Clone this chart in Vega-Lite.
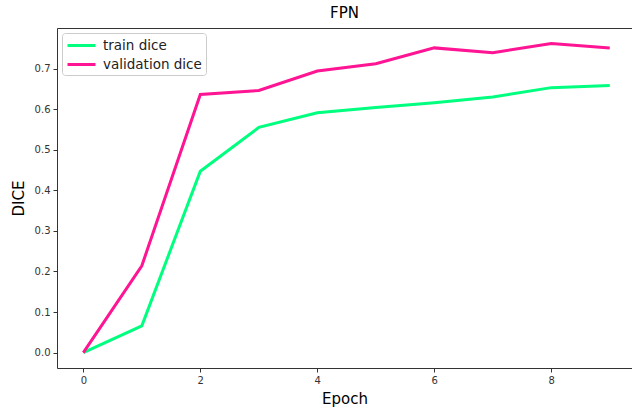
{
  "$schema": "https://vega.github.io/schema/vega-lite/v6.json",
  "width": 575,
  "height": 340,
  "autosize": {"type": "none"},
  "padding": {"left": 57, "top": 28, "right": 0, "bottom": 41},
  "title": {"text": "FPN", "fontSize": 15, "font": "DejaVu Sans", "fontWeight": "normal", "color": "#000", "offset": 7, "anchor": "middle"},
  "config": {
    "view": {"stroke": null},
    "font": "DejaVu Sans",
    "axis": {"grid": false, "domainColor": "#333", "tickColor": "#333", "labelColor": "#333", "labelFont": "DejaVu Sans", "labelFontSize": 10, "tickSize": 4, "titleFont": "DejaVu Sans", "titleFontWeight": "normal", "titleFontSize": 15, "titleColor": "#000"}
  },
  "data": {
    "values": [
      {"epoch": 0, "value": 0.0, "series": "train dice"},
      {"epoch": 1, "value": 0.066, "series": "train dice"},
      {"epoch": 2, "value": 0.447, "series": "train dice"},
      {"epoch": 3, "value": 0.555, "series": "train dice"},
      {"epoch": 4, "value": 0.591, "series": "train dice"},
      {"epoch": 5, "value": 0.604, "series": "train dice"},
      {"epoch": 6, "value": 0.616, "series": "train dice"},
      {"epoch": 7, "value": 0.630, "series": "train dice"},
      {"epoch": 8, "value": 0.653, "series": "train dice"},
      {"epoch": 9, "value": 0.658, "series": "train dice"},
      {"epoch": 0, "value": 0.0, "series": "validation dice"},
      {"epoch": 1, "value": 0.214, "series": "validation dice"},
      {"epoch": 2, "value": 0.636, "series": "validation dice"},
      {"epoch": 3, "value": 0.646, "series": "validation dice"},
      {"epoch": 4, "value": 0.694, "series": "validation dice"},
      {"epoch": 5, "value": 0.712, "series": "validation dice"},
      {"epoch": 6, "value": 0.751, "series": "validation dice"},
      {"epoch": 7, "value": 0.739, "series": "validation dice"},
      {"epoch": 8, "value": 0.762, "series": "validation dice"},
      {"epoch": 9, "value": 0.751, "series": "validation dice"}
    ]
  },
  "layer": [
    {
      "mark": {"type": "line", "strokeWidth": 3},
      "encoding": {
        "x": {"field": "epoch", "type": "quantitative", "scale": {"domain": [-0.45, 9.38], "nice": false, "zero": false}, "axis": {"values": [0, 2, 4, 6, 8], "title": "Epoch", "titlePadding": 6, "labelPadding": 3}},
        "y": {"field": "value", "type": "quantitative", "scale": {"domain": [-0.038, 0.8], "nice": false, "zero": false}, "axis": {"values": [0, 0.1, 0.2, 0.3, 0.4, 0.5, 0.6, 0.7], "format": ".1f", "title": "DICE", "titlePadding": 8, "labelPadding": 3}},
        "color": {"field": "series", "type": "nominal", "scale": {"domain": ["train dice", "validation dice"], "range": ["#00FF7F", "#FF1493"]},
          "legend": {"title": null, "orient": "none", "legendX": 5, "legendY": 5, "symbolType": "M-2,0H2", "symbolSize": 196, "symbolStrokeWidth": 3, "symbolOffset": 7, "labelFontSize": 13.5, "labelFont": "DejaVu Sans", "labelColor": "#222", "strokeColor": "#ccc", "fillColor": "white", "cornerRadius": 3, "padding": 4, "rowPadding": 4, "labelOffset": 13}}
      }
    },
    {
      "mark": {"type": "line", "opacity": 0},
      "encoding": {
        "x": {"field": "epoch", "type": "quantitative", "axis": {"orient": "top", "domain": true, "domainColor": "#333", "labels": false, "ticks": false, "title": null}},
        "y": {"field": "value", "type": "quantitative"}
      }
    }
  ],
  "resolve": {"axis": {"x": "independent"}}
}
